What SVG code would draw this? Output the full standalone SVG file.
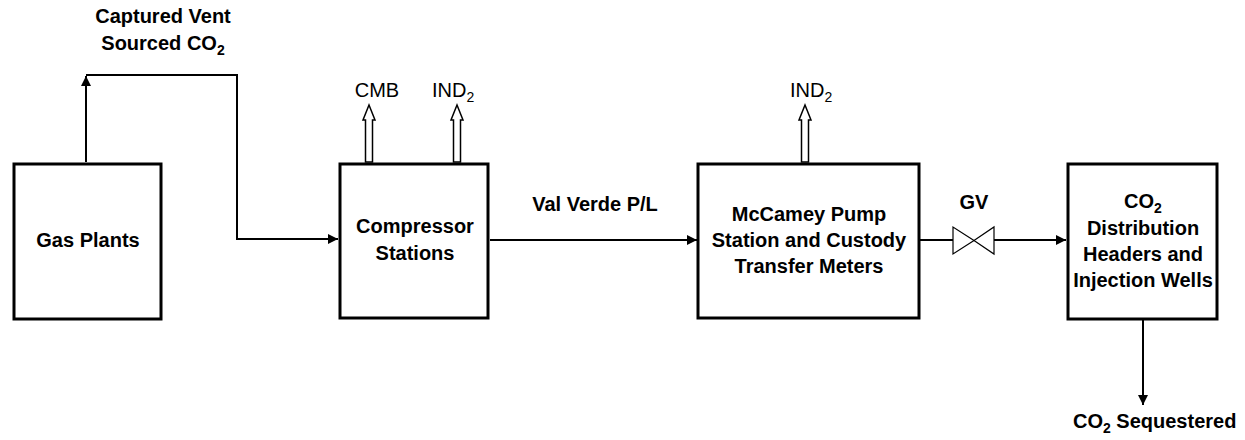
<svg xmlns="http://www.w3.org/2000/svg" width="1245" height="440" viewBox="0 0 1245 440">
<style>
  .box { fill: #fff; stroke: #000; stroke-width: 3; }
  .lbl { font-family: "Liberation Sans", Arial, sans-serif; font-size: 20px; fill: #000; }
  .b { font-weight: bold; }
  .conn { fill: none; stroke: #000; stroke-width: 2; }
  .dbl { fill: #fff; stroke: #000; stroke-width: 1.5; }
  .valve { fill: #fff; stroke: #000; stroke-width: 1.2; }
</style>
<defs>
  <marker id="ah" markerWidth="10" markerHeight="10" refX="10" refY="5" orient="auto" markerUnits="userSpaceOnUse">
    <path d="M0,0 L10,5 L0,10 Z" fill="#000"/>
  </marker>
</defs>
<rect width="1245" height="440" fill="#fff"/>

<g id="connectors">
  <path class="conn" d="M86,162 L86,76" marker-end="url(#ah)"/>
  <path class="conn" d="M86,75 L237,75 L237,239 L338,239" marker-end="url(#ah)"/>
  <path class="conn" d="M490,240 L697,240" marker-end="url(#ah)"/>
  <path class="conn" d="M920,240 L953,240"/>
  <path class="conn" d="M994,240 L1066,240" marker-end="url(#ah)"/>
  <path class="conn" d="M1143,320 L1143,405" marker-end="url(#ah)"/>
  <polygon class="dbl" points="365.5,162 365.5,120 363,120 369,105 375,120 372.5,120 372.5,162"/>
  <polygon class="dbl" points="453.5,162 453.5,120 451,120 457,105 463,120 460.5,120 460.5,162"/>
  <polygon class="dbl" points="801.5,162 801.5,120 799,120 805,105 811,120 808.5,120 808.5,162"/>
  <g id="gv">
    <polygon class="valve" points="953,227 953,254 974,240.5"/>
    <polygon class="valve" points="994,227 994,254 974,240.5"/>
  </g>
</g>

<g id="gas-plants">
  <rect class="box" x="14" y="164" width="147" height="155"/>
  <text class="lbl b" x="88" y="247" text-anchor="middle">Gas Plants</text>
</g>

<g id="compressor-stations">
  <rect class="box" x="340" y="164" width="148" height="154"/>
  <text class="lbl b" x="415" y="233" text-anchor="middle">Compressor</text>
  <text class="lbl b" x="415" y="260" text-anchor="middle">Stations</text>
</g>

<g id="mccamey">
  <rect class="box" x="698" y="164" width="221" height="154"/>
  <text class="lbl b" x="809" y="221" text-anchor="middle">McCamey Pump</text>
  <text class="lbl b" x="809" y="247" text-anchor="middle">Station and Custody</text>
  <text class="lbl b" x="809" y="273" text-anchor="middle">Transfer Meters</text>
</g>

<g id="distribution">
  <rect class="box" x="1068" y="164" width="149" height="155"/>
  <text class="lbl b" x="1143" y="208" text-anchor="middle">CO<tspan font-size="14" dy="5">2</tspan></text>
  <text class="lbl b" x="1143" y="235" text-anchor="middle">Distribution</text>
  <text class="lbl b" x="1143" y="261" text-anchor="middle">Headers and</text>
  <text class="lbl b" x="1143" y="287" text-anchor="middle">Injection Wells</text>
</g>

<g id="labels">
  <text class="lbl b" x="163" y="23" text-anchor="middle">Captured Vent</text>
  <text class="lbl b" x="163" y="50" text-anchor="middle">Sourced CO<tspan font-size="14" dy="5">2</tspan></text>
  <text class="lbl" x="377" y="97" text-anchor="middle">CMB</text>
  <text class="lbl" x="432" y="97">IND<tspan font-size="14" dy="5">2</tspan></text>
  <text class="lbl" x="790" y="97">IND<tspan font-size="14" dy="5">2</tspan></text>
  <text class="lbl b" x="595" y="211" text-anchor="middle">Val Verde P/L</text>
  <text class="lbl b" x="974" y="209" text-anchor="middle">GV</text>
  <text class="lbl b" x="1073" y="428">CO<tspan font-size="14" dy="5">2</tspan><tspan dy="-5"> Sequestered</tspan></text>
</g>
</svg>
